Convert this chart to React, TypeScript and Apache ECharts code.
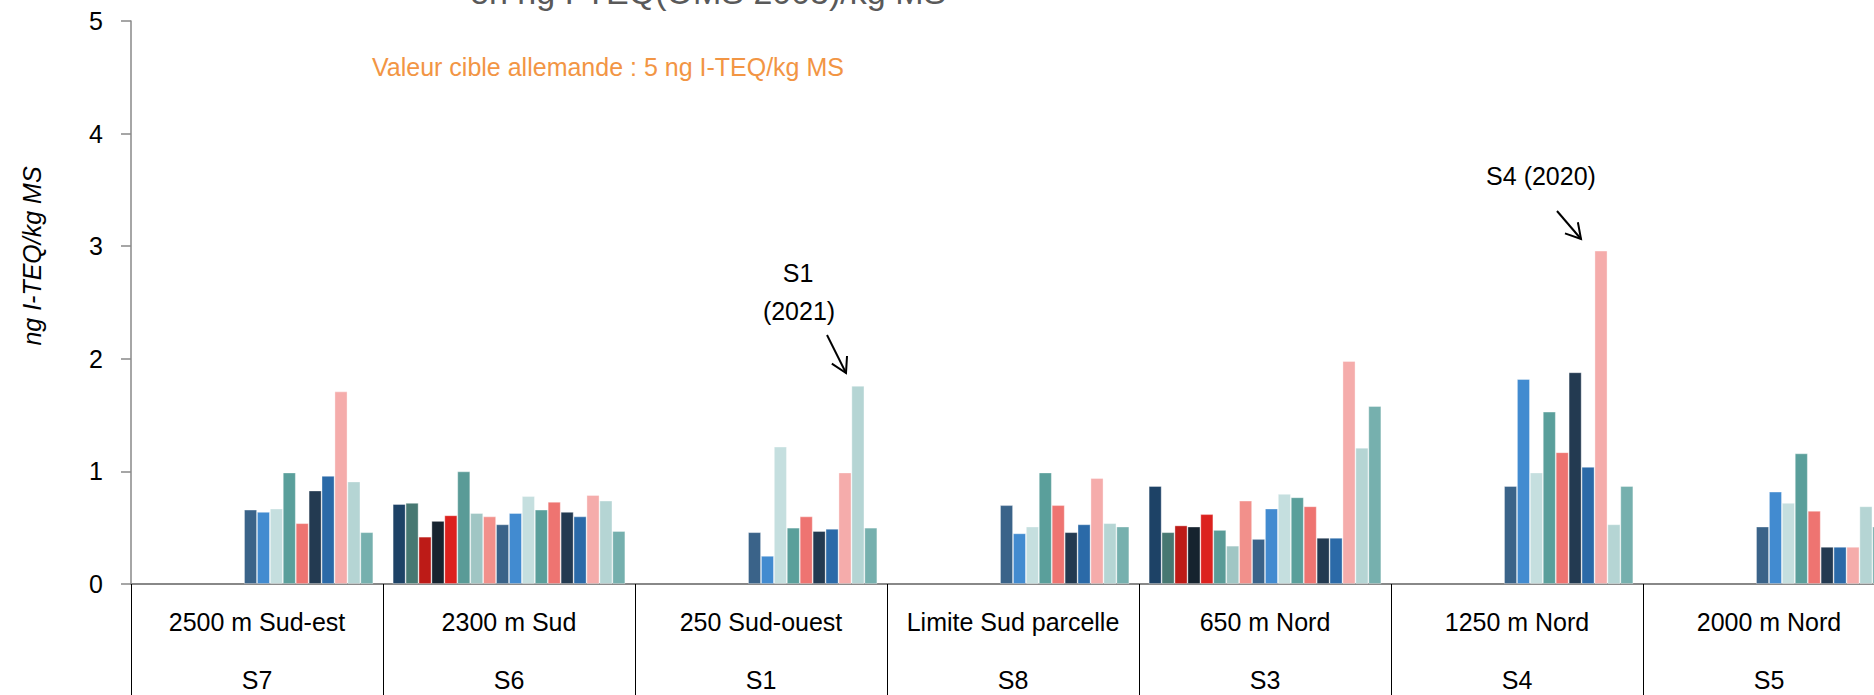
import React, { useEffect, useRef } from "react";
import * as echarts from "echarts";

// Categories (sites) and their codes
const categories = [
  "2500 m Sud-est",
  "2300 m Sud",
  "250 Sud-ouest",
  "Limite Sud parcelle",
  "650 m Nord",
  "1250 m Nord",
  "2000 m Nord",
];
const codes = ["S7", "S6", "S1", "S8", "S3", "S4", "S5"];

// Series = campaign years
const years = [
  "2005", "2006", "2007", "2008", "2009", "2010", "2011", "2012", "2013",
  "2014", "2015", "2016", "2017", "2018", "2019", "2020", "2021", "2022",
];

// Values per year, ordered as categories: S7, S6, S1, S8, S3, S4, S5
const v2005 = [null, 0.71, null, null, 0.87, null, null];
const v2006 = [null, 0.72, null, null, 0.46, null, null];
const v2007 = [null, 0.42, null, null, 0.52, null, null];
const v2008 = [null, 0.56, null, null, 0.51, null, null];
const v2009 = [null, 0.61, null, null, 0.62, null, null];
const v2010 = [null, 1.0, null, null, 0.48, null, null];
const v2011 = [null, 0.63, null, null, 0.34, null, null];
const v2012 = [null, 0.6, null, null, 0.74, null, null];
const v2013 = [0.66, 0.53, 0.46, 0.7, 0.4, 0.87, 0.51];
const v2014 = [0.64, 0.63, 0.25, 0.45, 0.67, 1.82, 0.82];
const v2015 = [0.67, 0.78, 1.22, 0.51, 0.8, 0.99, 0.72];
const v2016 = [0.99, 0.66, 0.5, 0.99, 0.77, 1.53, 1.16];
const v2017 = [0.54, 0.73, 0.6, 0.7, 0.69, 1.17, 0.65];
const v2018 = [0.83, 0.64, 0.47, 0.46, 0.41, 1.88, 0.33];
const v2019 = [0.96, 0.6, 0.49, 0.53, 0.41, 1.04, 0.33];
const v2020 = [1.71, 0.79, 0.99, 0.94, 1.98, 2.96, 0.33];
const v2021 = [0.91, 0.74, 1.76, 0.54, 1.21, 0.53, 0.69];
const v2022 = [0.46, 0.47, 0.5, 0.51, 1.58, 0.87, 0.51];

const values = [
  v2005, v2006, v2007, v2008, v2009, v2010, v2011, v2012, v2013,
  v2014, v2015, v2016, v2017, v2018, v2019, v2020, v2021, v2022,
];

const colors = [
  "#1D4266", "#477872", "#BD1B17", "#16232F", "#DC211E", "#5A9B97",
  "#A0C6C4", "#F2908B", "#3A6389", "#428BD0", "#C5DFDF", "#5A9F9B",
  "#EE7471", "#233A51", "#2B6AA8", "#F5ACAB", "#B5D5D4", "#76B0AE",
];

const yTicks = { min: 0, max: 5, interval: 1 };

const FONT = "'Liberation Sans', Arial, Helvetica, sans-serif";

function arrow(x1: number, y1: number, x2: number, y2: number) {
  const a = Math.atan2(y2 - y1, x2 - x1);
  const L = 17;
  const w = Math.PI / 6;
  return [
    {
      type: "line",
      shape: { x1, y1, x2, y2 },
      style: { stroke: "#000", lineWidth: 2 },
    },
    {
      type: "polyline",
      shape: {
        points: [
          [x2 - L * Math.cos(a - w), y2 - L * Math.sin(a - w)],
          [x2, y2],
          [x2 - L * Math.cos(a + w), y2 - L * Math.sin(a + w)],
        ],
      },
      style: { stroke: "#000", lineWidth: 2, fill: "none" },
    },
  ];
}

export default function App() {
  const ref = useRef<HTMLDivElement>(null);

  useEffect(() => {
    if (!ref.current) return;
    const chart = echarts.init(ref.current, null, { renderer: "svg" });

    const option = {
      animation: false,
      backgroundColor: "#ffffff",
      textStyle: { fontFamily: FONT },
      grid: { left: 131, right: 15, top: 21, bottom: 111, containLabel: false },
      xAxis: {
        type: "category",
        data: categories.map((c, i) => c + "\n\n" + codes[i]),
        axisLine: { show: true, lineStyle: { color: "#888888", width: 2 } },
        axisTick: {
          show: true,
          interval: 0,
          length: 111,
          lineStyle: { color: "#000000", width: 1 },
        },
        axisLabel: {
          interval: 0,
          fontSize: 25,
          color: "#000000",
          fontFamily: FONT,
          lineHeight: 29,
          margin: 23,
        },
        splitLine: { show: false },
      },
      yAxis: {
        type: "value",
        min: yTicks.min,
        max: yTicks.max,
        interval: yTicks.interval,
        splitLine: { show: false },
        axisLine: { show: true, lineStyle: { color: "#888888", width: 1.5 } },
        axisTick: { show: true, length: 10, lineStyle: { color: "#888888", width: 1.5 } },
        axisLabel: { fontSize: 25, color: "#000000", margin: 28, fontFamily: FONT },
      },
      series: years.map((y, i) => ({
        type: "bar",
        name: y,
        data: values[i],
        barGap: "0%",
        barCategoryGap: "7.7%",
        itemStyle: {
          color: colors[i],
          borderColor: "rgba(255,255,255,0.45)",
          borderWidth: 0.8,
        },
      })),
      graphic: [
        {
          type: "text",
          left: 470,
          top: -25,
          style: {
            text: "en ng I-TEQ(OMS 2005)/kg MS",
            fontSize: 34,
            fontFamily: FONT,
            fill: "#595959",
          },
        },
        {
          type: "text",
          x: 372,
          y: 67,
          style: {
            text: "Valeur cible allemande : 5 ng I-TEQ/kg MS",
            fontSize: 25,
            fontFamily: FONT,
            fill: "#F29544",
            align: "left",
            verticalAlign: "middle",
          },
        },
        {
          type: "text",
          x: 32,
          y: 256,
          rotation: Math.PI / 2,
          style: {
            text: "ng I-TEQ/kg MS",
            fontSize: 25,
            fontStyle: "italic",
            fontFamily: FONT,
            fill: "#000000",
            align: "center",
            verticalAlign: "middle",
          },
        },
        {
          type: "text",
          x: 798,
          y: 273,
          style: {
            text: "S1",
            fontSize: 25,
            fontFamily: FONT,
            fill: "#000",
            align: "center",
            verticalAlign: "middle",
          },
        },
        {
          type: "text",
          x: 799,
          y: 311,
          style: {
            text: "(2021)",
            fontSize: 25,
            fontFamily: FONT,
            fill: "#000",
            align: "center",
            verticalAlign: "middle",
          },
        },
        ...arrow(827, 335, 846, 373),
        {
          type: "text",
          x: 1541,
          y: 176,
          style: {
            text: "S4 (2020)",
            fontSize: 25,
            fontFamily: FONT,
            fill: "#000",
            align: "center",
            verticalAlign: "middle",
          },
        },
        ...arrow(1557, 211, 1581, 239),
      ],
    };

    chart.setOption(option as any);
    return () => chart.dispose();
  }, []);

  return (
    <div
      style={{
        position: "fixed",
        left: 0,
        top: 0,
        width: 1874,
        height: 695,
        overflow: "hidden",
        background: "#ffffff",
      }}
    >
      <div ref={ref} style={{ width: 1910, height: 695 }} />
    </div>
  );
}
